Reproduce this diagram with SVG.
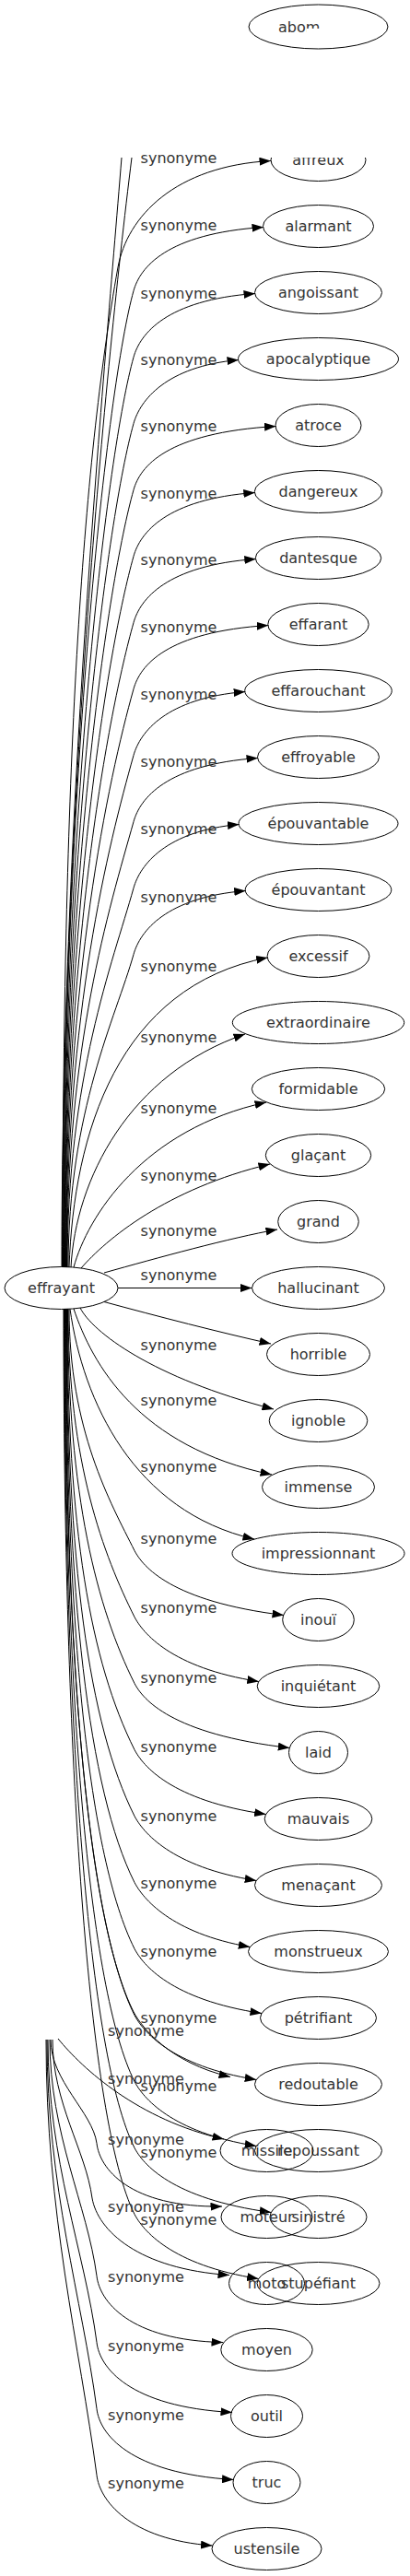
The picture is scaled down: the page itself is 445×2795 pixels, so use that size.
<svg xmlns="http://www.w3.org/2000/svg" width="445" height="2795" viewBox="0 0 445 2795">
<defs>
<style>
.n ellipse{fill:none;stroke:#000;stroke-width:1}
text{font-family:"DejaVu Sans","Liberation Sans",sans-serif;font-size:16px;fill:#333}
.n text{text-anchor:middle}
.l text{text-anchor:middle}
.e path{fill:none;stroke:#000;stroke-width:1;marker-end:url(#a)}
.e path.h{marker-end:none}
</style>
<marker id="a" markerUnits="userSpaceOnUse" markerWidth="13" markerHeight="9" refX="12.5" refY="4.5" orient="auto" viewBox="0 0 13 9"><path d="M0,0L12.5,4.5L0,9z" fill="#000"/></marker>
<clipPath id="c1"><rect x="0" y="171" width="445" height="2624"/></clipPath>
<clipPath id="c0"><rect x="0" y="0" width="333" height="60"/><rect x="333" y="0" width="112" height="31"/></clipPath>
</defs>
<rect width="445" height="2795" fill="#fff"/>
<g id="connectors" class="e" clip-path="url(#c1)">
<path class="h" d="M67,1375 C67,900 112,420 132,171"/>
<path class="h" d="M67.5,1375 C67.5,900 112,420 143,171"/>
<path d="M68,1375 C68,832.5 89,507 128,290 C138,235 190,180 294,174.5"/>
<path d="M68.5,1375 C68.5,845.3 117,415.5 145,315.5 C152,290.5 180,253.5 286,246.5"/>
<path d="M69,1375 C69,881.3 117,487.5 145,387.5 C152,362.5 180,325.5 277,318.5"/>
<path d="M69.5,1375 C69.5,917.3 117,559.5 145,459.5 C152,434.5 180,397.5 259,390.5"/>
<path d="M70,1375 C70,953.3 117,631.5 145,531.5 C152,506.5 180,469.5 299.5,462.5"/>
<path d="M70.5,1375 C70.5,989.3 117,703.5 145,603.5 C152,578.5 180,541.5 276.8,534.5"/>
<path d="M71,1375 C71,1025.3 117,775.5 145,675.5 C152,650.5 180,613.5 277.8,606.5"/>
<path d="M71.5,1375 C71.5,1061.3 117,847.5 145,747.5 C152,722.5 180,685.5 291.3,678.5"/>
<path d="M72,1375 C72,1097.3 117,919.5 145,819.5 C152,794.5 180,757.5 266.2,750.5"/>
<path d="M72.5,1375 C72.5,1133.3 117.9,988.2 145,891.5 C152,866.5 180,829.5 280,822.5"/>
<path d="M73,1375 C73,1169.3 122,1045.8 145,963.5 C152,938.5 180,901.5 259.5,894.5"/>
<path d="M74,1375 C74,1205.3 126,1103.4 145,1035.5 C152,1010.5 180,973.5 266.7,966.5"/>
<path d="M75,1375 C80,1230 128,1070 290.6,1039"/>
<path d="M77,1375 C82,1280 140,1165 266,1122"/>
<path d="M80,1375 C95,1320 155,1225 289,1196"/>
<path d="M88,1376 C115,1345 180,1290 293,1263"/>
<path d="M113,1381 C170,1365 250,1343 301,1334"/>
<path d="M128,1397.5 L273.5,1397.5"/>
<path d="M113,1412.5 C170,1428 240,1446 294,1458"/>
<path d="M87,1419 C100,1445 165,1495 297,1529"/>
<path d="M80,1420 C100,1480 150,1570 295,1600"/>
<path d="M76,1420.3 C90,1520 145,1640 276,1670"/>
<path d="M75,1420.3 C75,1551.4 119.8,1630.1 146,1682.5 C155,1699.5 185,1737.5 308,1752.5"/>
<path d="M74,1420.3 C74,1587.4 112.6,1687.7 146,1754.5 C155,1771.5 185,1809.5 280.8,1824.5"/>
<path d="M73.5,1420.3 C73.5,1623.4 105.4,1745.3 146,1826.5 C155,1843.5 185,1881.5 314.3,1896.5"/>
<path d="M73,1420.3 C73,1659.4 98.2,1802.9 146,1898.5 C155,1915.5 185,1953.5 288.6,1968.5"/>
<path d="M72.5,1420.3 C72.5,1695.4 96,1870.5 146,1970.5 C155,1987.5 185,2025.5 278.2,2040.5"/>
<path d="M72,1420.3 C72,1731.4 96,1942.5 146,2042.5 C155,2059.5 185,2097.5 271.3,2112.5"/>
<path d="M71.5,1420.3 C71.5,1767.4 96,2014.5 146,2114.5 C155,2131.5 185,2169.5 284,2184.5"/>
<path d="M71,1420.3 C71,1801.7 95,2083 145,2183 C154,2200 184,2238 250,2253.5"/>
<path d="M70.5,1420.3 C70.5,1803.4 96,2086.5 146,2186.5 C155,2203.5 185,2241.5 278.2,2256.5"/>
<path d="M70,1420.3 C70,1839.4 96,2158.5 146,2258.5 C155,2275.5 185,2313.5 278.2,2328.5"/>
<path d="M69.5,1420.3 C69.5,1875.4 96,2230.5 146,2330.5 C155,2347.5 185,2385.5 294.3,2400.5"/>
<path d="M69,1420.3 C69,1911.4 96,2302.5 146,2402.5 C155,2419.5 185,2457.5 280.6,2472.5"/>
<path d="M63,2212 C90,2245 150,2300 243,2321"/>
<path d="M55,2213 C55,2258 100.5,2291.8 105,2325.5 C108,2352.5 140,2395.5 241,2394"/>
<path d="M57,2213 C57,2281.8 93.1,2333.4 100,2385 C106,2420 150,2462 249,2468.5"/>
<path d="M54,2213 C54,2315.6 94.7,2392.5 105,2469.5 C108,2496.5 140,2539.5 242,2541.5"/>
<path d="M52,2213 C52,2344.4 91.9,2442.9 105,2541.5 C108,2568.5 140,2611.5 252,2617.5"/>
<path d="M51,2213 C51,2373.2 89,2493.3 105,2613.5 C108,2640.5 140,2683.5 253.5,2690.5"/>
<path d="M50,2213 C50,2402 86.1,2543.75 105,2685.5 C108,2712.5 140,2755.5 230.5,2762"/>
</g>
<g id="edge-labels" class="l">
<text x="194" y="177">synonyme</text>
<text x="194" y="250">synonyme</text>
<text x="194" y="324">synonyme</text>
<text x="194" y="396">synonyme</text>
<text x="194" y="468">synonyme</text>
<text x="194" y="540.5">synonyme</text>
<text x="194" y="613">synonyme</text>
<text x="194" y="685.5">synonyme</text>
<text x="194" y="758.5">synonyme</text>
<text x="194" y="831.5">synonyme</text>
<text x="194" y="905">synonyme</text>
<text x="194" y="979">synonyme</text>
<text x="194" y="1054">synonyme</text>
<text x="194" y="1130.5">synonyme</text>
<text x="194" y="1208">synonyme</text>
<text x="194" y="1281">synonyme</text>
<text x="194" y="1341">synonyme</text>
<text x="194" y="1389">synonyme</text>
<text x="194" y="1465">synonyme</text>
<text x="194" y="1525">synonyme</text>
<text x="194" y="1597">synonyme</text>
<text x="194" y="1675">synonyme</text>
<text x="194" y="1750">synonyme</text>
<text x="194" y="1826">synonyme</text>
<text x="194" y="1901">synonyme</text>
<text x="194" y="1976">synonyme</text>
<text x="194" y="2049">synonyme</text>
<text x="194" y="2123">synonyme</text>
<text x="194" y="2195">synonyme</text>
<text x="194" y="2269">synonyme</text>
<text x="194" y="2341">synonyme</text>
<text x="194" y="2414">synonyme</text>
<text x="158.5" y="2209">synonyme</text>
<text x="158.5" y="2261">synonyme</text>
<text x="158.5" y="2327">synonyme</text>
<text x="158.5" y="2400">synonyme</text>
<text x="158.5" y="2476">synonyme</text>
<text x="158.5" y="2551">synonyme</text>
<text x="158.5" y="2626">synonyme</text>
<text x="158.5" y="2700">synonyme</text>
</g>
<g id="n-abom" class="n"><ellipse cx="345.5" cy="29" rx="75.5" ry="24"/><text x="302" y="34.5" style="text-anchor:start" clip-path="url(#c0)">abom</text></g>
<g id="n-affreux" class="n" clip-path="url(#c1)"><ellipse cx="345.5" cy="173.5" rx="51.5" ry="23"/><text x="345.5" y="179">affreux</text></g>
<g id="n-alarmant" class="n"><ellipse cx="345.5" cy="245.5" rx="60" ry="23"/><text x="345.5" y="251">alarmant</text></g>
<g id="n-angoissant" class="n"><ellipse cx="345.5" cy="317.5" rx="69" ry="23"/><text x="345.5" y="323">angoissant</text></g>
<g id="n-apocalyptique" class="n"><ellipse cx="345.5" cy="389.5" rx="87" ry="23"/><text x="345.5" y="395">apocalyptique</text></g>
<g id="n-atroce" class="n"><ellipse cx="345.5" cy="461.5" rx="46.5" ry="23"/><text x="345.5" y="467">atroce</text></g>
<g id="n-dangereux" class="n"><ellipse cx="345.5" cy="533.5" rx="69.2" ry="23"/><text x="345.5" y="539">dangereux</text></g>
<g id="n-dantesque" class="n"><ellipse cx="345.5" cy="605.5" rx="68.2" ry="23"/><text x="345.5" y="611">dantesque</text></g>
<g id="n-effarant" class="n"><ellipse cx="345.5" cy="677.5" rx="54.7" ry="23"/><text x="345.5" y="683">effarant</text></g>
<g id="n-effarouchant" class="n"><ellipse cx="345.5" cy="749.5" rx="79.8" ry="23"/><text x="345.5" y="755">effarouchant</text></g>
<g id="n-effroyable" class="n"><ellipse cx="345.5" cy="821.5" rx="66" ry="23"/><text x="345.5" y="827">effroyable</text></g>
<g id="n-epouvantable" class="n"><ellipse cx="345.5" cy="893.5" rx="86.5" ry="23"/><text x="345.5" y="899">épouvantable</text></g>
<g id="n-epouvantant" class="n"><ellipse cx="345.5" cy="965.5" rx="79.3" ry="23"/><text x="345.5" y="971">épouvantant</text></g>
<g id="n-excessif" class="n"><ellipse cx="345.5" cy="1037.5" rx="55.4" ry="23"/><text x="345.5" y="1043">excessif</text></g>
<g id="n-extraordinaire" class="n"><ellipse cx="345.5" cy="1109.5" rx="93.2" ry="23"/><text x="345.5" y="1115">extraordinaire</text></g>
<g id="n-formidable" class="n"><ellipse cx="345.5" cy="1181.5" rx="72.2" ry="23"/><text x="345.5" y="1187">formidable</text></g>
<g id="n-glacant" class="n"><ellipse cx="345.5" cy="1253.5" rx="57.2" ry="23"/><text x="345.5" y="1259">glaçant</text></g>
<g id="n-grand" class="n"><ellipse cx="345.5" cy="1325.5" rx="43.8" ry="23"/><text x="345.5" y="1331">grand</text></g>
<g id="n-hallucinant" class="n"><ellipse cx="345.5" cy="1397.5" rx="72" ry="23"/><text x="345.5" y="1403">hallucinant</text></g>
<g id="n-horrible" class="n"><ellipse cx="345.5" cy="1469.5" rx="56" ry="23"/><text x="345.5" y="1475">horrible</text></g>
<g id="n-ignoble" class="n"><ellipse cx="345.5" cy="1541.5" rx="53.3" ry="23"/><text x="345.5" y="1547">ignoble</text></g>
<g id="n-immense" class="n"><ellipse cx="345.5" cy="1613.5" rx="61" ry="23"/><text x="345.5" y="1619">immense</text></g>
<g id="n-impressionnant" class="n"><ellipse cx="345.5" cy="1685.5" rx="93.5" ry="23"/><text x="345.5" y="1691">impressionnant</text></g>
<g id="n-inoui" class="n"><ellipse cx="345.5" cy="1757.5" rx="38.8" ry="23"/><text x="345.5" y="1763">inouï</text></g>
<g id="n-inquietant" class="n"><ellipse cx="345.5" cy="1829.5" rx="66.3" ry="23"/><text x="345.5" y="1835">inquiétant</text></g>
<g id="n-laid" class="n"><ellipse cx="345.5" cy="1901.5" rx="32" ry="23"/><text x="345.5" y="1907">laid</text></g>
<g id="n-mauvais" class="n"><ellipse cx="345.5" cy="1973.5" rx="58.3" ry="23"/><text x="345.5" y="1979">mauvais</text></g>
<g id="n-menacant" class="n"><ellipse cx="345.5" cy="2045.5" rx="69" ry="23"/><text x="345.5" y="2051">menaçant</text></g>
<g id="n-monstrueux" class="n"><ellipse cx="345.5" cy="2117.5" rx="76" ry="23"/><text x="345.5" y="2123">monstrueux</text></g>
<g id="n-petrifiant" class="n"><ellipse cx="345.5" cy="2189.5" rx="63" ry="23"/><text x="345.5" y="2195">pétrifiant</text></g>
<g id="n-redoutable" class="n"><ellipse cx="345.5" cy="2261.5" rx="69" ry="23"/><text x="345.5" y="2267">redoutable</text></g>
<g id="n-repoussant" class="n"><ellipse cx="345.5" cy="2333.5" rx="69" ry="23"/><text x="345.5" y="2339">repoussant</text></g>
<g id="n-sinistre" class="n"><ellipse cx="345.5" cy="2405.5" rx="52.5" ry="23"/><text x="345.5" y="2411">sinistré</text></g>
<g id="n-stupefiant" class="n"><ellipse cx="345.5" cy="2477.5" rx="66.5" ry="23"/><text x="345.5" y="2483">stupéfiant</text></g>
<g id="n-effrayant" class="n"><ellipse cx="66.5" cy="1397.5" rx="61.5" ry="23"/><text x="66.5" y="1403">effrayant</text></g>
<g id="n-missile" class="n"><ellipse cx="289.5" cy="2333.5" rx="50.5" ry="23"/><text x="289.5" y="2339">missile</text></g>
<g id="n-moteur" class="n"><ellipse cx="289.5" cy="2405.5" rx="49.5" ry="23"/><text x="289.5" y="2411">moteur</text></g>
<g id="n-moto" class="n"><ellipse cx="289.5" cy="2477.5" rx="41" ry="23"/><text x="289.5" y="2483">moto</text></g>
<g id="n-moyen" class="n"><ellipse cx="289.5" cy="2549.5" rx="49.7" ry="23"/><text x="289.5" y="2555">moyen</text></g>
<g id="n-outil" class="n"><ellipse cx="289.5" cy="2621.5" rx="39" ry="23"/><text x="289.5" y="2627">outil</text></g>
<g id="n-truc" class="n"><ellipse cx="289.5" cy="2693.5" rx="36.5" ry="23"/><text x="289.5" y="2699">truc</text></g>
<g id="n-ustensile" class="n"><ellipse cx="289.5" cy="2765.5" rx="59.5" ry="23"/><text x="289.5" y="2771">ustensile</text></g>
</svg>
